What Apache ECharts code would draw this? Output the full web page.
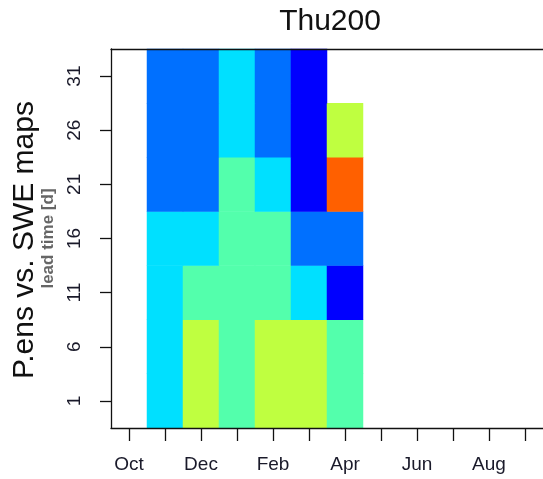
<!DOCTYPE html>
<html>
<head>
<meta charset="utf-8">
<script src="https://cdn.jsdelivr.net/npm/echarts@6/dist/echarts.min.js"></script>
<style>
html,body{margin:0;padding:0;background:#fff;}
#chart{width:543px;height:479px;}
</style>
</head>
<body>
<div id="chart"></div>
<script>
// Categories
const months = ['Oct','Nov','Dec','Jan','Feb','Mar','Apr','May','Jun','Jul','Aug','Sep'];
const leadTimes = ['1','6','11','16','21','26','31'];
// Level per month for each lead time (null = no data)
const lt1  = [null, 3, 5, 4, 5, 5, 4, null, null, null, null, null];
const lt6  = [null, 3, 5, 4, 5, 5, 4, null, null, null, null, null];
const lt11 = [null, 3, 4, 4, 4, 3, 1, null, null, null, null, null];
const lt16 = [null, 3, 3, 4, 4, 2, 2, null, null, null, null, null];
const lt21 = [null, 2, 2, 4, 3, 1, 7, null, null, null, null, null];
const lt26 = [null, 2, 2, 3, 2, 1, 5, null, null, null, null, null];
const lt31 = [null, 2, 2, 3, 2, 1, null, null, null, null, null, null];
// Colour levels
const levels = [1, 2, 3, 4, 5, 6, 7];
const levelColors = ['#0000FF', '#0070FF', '#00E0FF', '#53FFAC', '#BFFF40', '#FFCE00', '#FF6000'];

const rows = [lt1, lt6, lt11, lt16, lt21, lt26, lt31];
const data = [];
rows.forEach((row, yi) => {
  row.forEach((v, xi) => { if (v !== null) data.push([xi, yi, v]); });
});

const FONT = 'Liberation Sans, Arial, sans-serif';
const chart = echarts.init(document.getElementById('chart'), null, {renderer: 'canvas'});
chart.setOption({
  animation: false,
  backgroundColor: '#fff',
  title: {
    text: 'Thu200', left: 325, top: 2, textAlign: 'center',
    textStyle: {fontFamily: FONT, fontSize: 30, fontWeight: 'normal', color: '#111'}
  },
  grid: {left: 111, top: 49, width: 434, height: 379, show: false},
  xAxis: [{
    type: 'category', data: months, boundaryGap: true, z: 10,
    axisLine: {show: true, lineStyle: {color: '#111', width: 1.3}},
    axisTick: {show: true, alignWithLabel: true, interval: 0, length: 13, lineStyle: {color: '#111', width: 1.3}},
    axisLabel: {interval: 1, margin: 27, fontFamily: FONT, fontSize: 19, color: '#1a1a2a'},
    splitLine: {show: false}
  }, {
    type: 'category', data: months, position: 'top', z: 10,
    axisLine: {show: true, onZero: false, lineStyle: {color: '#111', width: 1.3}},
    axisTick: {show: false}, axisLabel: {show: false}
  }],
  yAxis: [{
    type: 'category', data: leadTimes, boundaryGap: true, z: 10,
    name: 'lead time [d]', nameLocation: 'middle', nameRotate: 90, nameGap: 54,
    nameTextStyle: {fontFamily: FONT, fontSize: 17, fontWeight: 'bold', color: '#666'},
    axisLine: {show: true, lineStyle: {color: '#111', width: 1.3}},
    axisTick: {show: true, alignWithLabel: true, interval: 0, length: 11, lineStyle: {color: '#111', width: 1.3}},
    axisLabel: {rotate: 90, interval: 0, margin: 27, fontFamily: FONT, fontSize: 19, color: '#1a1a2a'},
    splitLine: {show: false}
  }],
  visualMap: {
    type: 'piecewise', show: false, dimension: 2,
    pieces: levels.map((v, i) => ({value: v, color: levelColors[i]}))
  },
  graphic: [{
    type: 'text', x: 25, y: 240, rotation: Math.PI / 2,
    style: {text: 'P.ens vs. SWE maps', fontFamily: FONT, fontSize: 30, fill: '#111',
            align: 'center', verticalAlign: 'middle'}
  }],
  series: [{
    type: 'heatmap', data: data, xAxisIndex: 0, yAxisIndex: 0,
    emphasis: {disabled: true}, itemStyle: {borderWidth: 0}
  }]
});
</script>
</body>
</html>
